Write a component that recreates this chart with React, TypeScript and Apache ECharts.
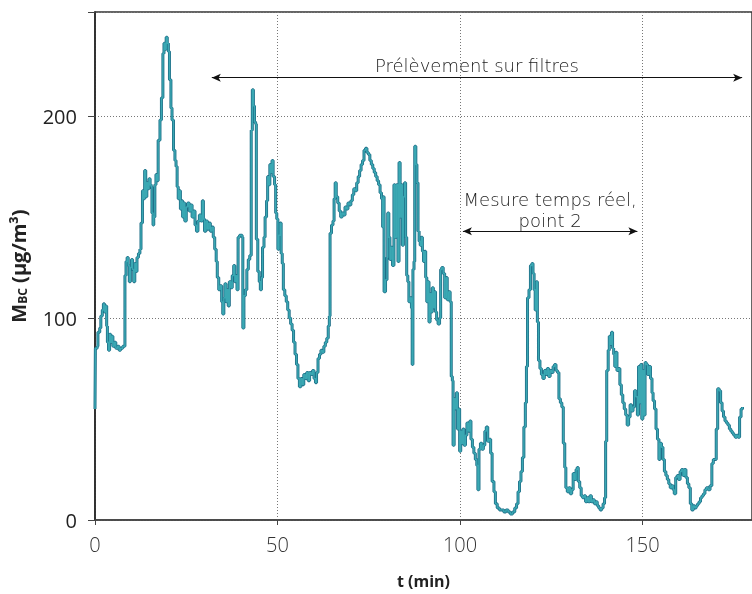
import React, { useEffect, useRef } from "react";
import * as echarts from "echarts";

// time (min)
const timeMin: number[] = [
  0, 0.1, 0.6, 0.8, 1.3, 1.6, 2.0, 2.3, 2.6, 2.9, 3.2, 3.4, 3.7, 4.0, 4.3, 4.6, 4.9, 5.3, 5.7, 6.2, 6.6, 7.0, 7.6, 8.0,
  8.2, 8.5, 8.8, 9.1, 9.4, 9.7, 10.0, 10.3, 10.6, 10.9, 11.2, 11.5, 11.9, 12.3, 12.6, 13.0, 13.3, 13.6, 13.9, 14.2,
  14.5, 14.8, 15.1, 15.4, 15.6, 15.9, 16.1, 16.4, 16.7, 17.0, 17.3, 17.8, 18.2, 18.6, 18.9, 19.2, 19.5, 19.8, 20.1,
  20.4, 20.8, 21.1, 21.5, 21.9, 22.2, 22.5, 22.8, 23.1, 23.4, 23.7, 24.0, 24.3, 24.6, 25.0, 25.4, 25.8, 26.2, 26.6,
  27.0, 27.4, 27.8, 28.2, 28.6, 29.0, 29.4, 29.7, 30.0, 30.4, 30.8, 31.2, 31.6, 32.0, 32.4, 32.8, 33.2, 33.5, 33.9,
  34.3, 34.7, 35.0, 35.3, 35.6, 35.9, 36.2, 36.5, 36.8, 37.2, 37.6, 38.0, 38.3, 38.6, 38.9, 39.2, 39.6, 40.0, 40.3,
  40.5, 40.8, 41.2, 41.6, 42.0, 42.4, 42.8, 43.1, 43.4, 43.7, 44.0, 44.2, 44.6, 45.0, 45.3, 45.6, 45.9, 46.3, 46.6,
  47.0, 47.3, 47.6, 47.9, 48.2, 48.5, 48.8, 49.2, 49.5, 49.8, 50.1, 50.4, 50.7, 51.0, 51.3, 51.6, 52.0, 52.4, 52.8,
  53.2, 53.6, 54.0, 54.4, 54.8, 55.2, 55.6, 56.0, 56.4, 56.8, 57.2, 57.6, 58.0, 58.4, 58.8, 59.2, 59.6, 60.0, 60.4,
  60.7, 61.1, 61.5, 61.9, 62.3, 62.7, 63.1, 63.5, 63.9, 64.2, 64.4, 64.8, 65.2, 65.5, 65.8, 66.1, 66.5, 66.9, 67.3,
  67.7, 68.1, 68.5, 68.9, 69.3, 69.7, 70.1, 70.5, 70.9, 71.3, 71.7, 72.1, 72.5, 72.9, 73.3, 73.7, 74.1, 74.5, 74.9,
  75.3, 75.7, 76.1, 76.5, 76.9, 77.3, 77.7, 78.1, 78.5, 78.8, 79.0, 79.2, 79.6, 80.0, 80.2, 80.5, 80.8, 81.1, 81.5,
  81.9, 82.2, 82.6, 83.0, 83.3, 83.6, 83.9, 84.2, 84.5, 84.8, 85.1, 85.4, 85.7, 86.0, 86.4, 86.7, 86.9, 87.1, 87.4,
  87.6, 87.9, 88.2, 88.5, 88.8, 89.1, 89.4, 89.7, 90.0, 90.3, 90.6, 90.9, 91.2, 91.5, 91.8, 92.1, 92.4, 92.7, 93.0,
  93.3, 93.6, 94.0, 94.4, 94.7, 95.0, 95.4, 95.8, 96.2, 96.5, 96.9, 97.3, 97.6, 97.9, 98.1, 98.4, 98.7, 99.0, 99.3,
  99.6, 99.9, 100.2, 100.5, 100.8, 101.1, 101.5, 101.9, 102.3, 102.7, 103.0, 103.4, 103.8, 104.2, 104.6, 104.9,
  105.2, 105.6, 106.0, 106.4, 106.8, 107.2, 107.6, 108.0, 108.4, 108.8, 109.3, 109.7, 110.2, 110.8, 111.4, 112.0,
  112.6, 113.2, 113.8, 114.4, 115.0, 115.5, 115.9, 116.3, 116.7, 117.1, 117.5, 117.9, 118.2, 118.5, 118.9, 119.3,
  119.7, 120.0, 120.3, 120.6, 120.9, 121.2, 121.5, 121.9, 122.3, 122.7, 123.1, 123.5, 123.9, 124.3, 124.7, 125.1,
  125.5, 125.9, 126.3, 126.7, 127.1, 127.5, 127.9, 128.3, 128.7, 129.0, 129.4, 129.8, 130.2, 130.6, 131.0, 131.4,
  131.8, 132.1, 132.4, 132.8, 133.2, 133.6, 134.0, 134.4, 134.8, 135.2, 135.6, 136.0, 136.4, 136.8, 137.2, 137.6,
  138.0, 138.4, 138.8, 139.2, 139.6, 139.9, 140.2, 140.6, 140.9, 141.2, 141.5, 141.8, 142.1, 142.4, 142.7, 143.0,
  143.4, 143.8, 144.2, 144.6, 145.0, 145.4, 145.8, 146.2, 146.6, 147.0, 147.4, 147.8, 148.2, 148.6, 148.9, 149.2,
  149.5, 149.8, 150.1, 150.4, 150.7, 151.0, 151.4, 151.8, 152.2, 152.6, 152.9, 153.3, 153.7, 154.1, 154.5, 154.8,
  155.2, 155.6, 156.0, 156.4, 156.8, 157.2, 157.6, 158.0, 158.4, 158.7, 159.1, 159.5, 159.9, 160.3, 160.7, 161.1,
  161.5, 161.9, 162.3, 162.7, 163.1, 163.5, 163.9, 164.3, 164.7, 165.1, 165.5, 165.9, 166.3, 166.7, 167.1, 167.5,
  168.0, 168.5, 169.0, 169.4, 169.8, 170.2, 170.6, 171.0, 171.4, 171.8, 172.2, 172.6, 173.0, 173.4, 173.8, 174.2,
  174.6, 175.0, 175.4, 175.8, 176.2, 176.6, 177.0, 177.4,
];

// black carbon mass concentration M_BC (µg/m³)
const mbc: number[] = [
  55, 85, 86, 93, 95, 101, 104, 107, 103, 106, 96, 88, 84, 92, 88, 91, 86, 88, 85, 86, 84, 85, 86, 86,
  121, 128, 130, 126, 118, 125, 129, 124, 118, 127, 123, 130, 132, 134, 147, 163, 159, 173, 160, 167,
  164, 169, 166, 165, 152, 146, 150, 166, 171, 168, 188, 198, 209, 231, 236, 233, 239, 236, 232,
  218, 204, 198, 183, 178, 175, 165, 159, 163, 154, 158, 150, 157, 148, 155, 157, 153, 156, 150,
  153, 146, 143, 148, 151, 148, 158, 149, 143, 148, 144, 147, 143, 145, 140, 134, 128, 120, 114,
  116, 108, 102, 110, 117, 108, 114, 106, 118, 115, 121, 126, 118, 121, 114, 140, 141, 141, 140,
  95, 111, 114, 124, 129, 131, 193, 213, 205, 197, 196, 139, 123, 118, 114, 120, 135, 140, 150,
  158, 170, 166, 176, 172, 178, 170, 166, 152, 149, 134, 141, 147, 132, 127, 114, 111, 108, 104,
  100, 97, 94, 88, 82, 77, 70, 66, 70, 67, 72, 70, 73, 69, 73, 72, 74, 70, 68,
  73, 80, 82, 84, 83, 86, 88, 90, 96, 101, 142, 146, 148, 159, 167, 160, 157, 153, 150,
  152, 151, 155, 154, 157, 156, 158, 161, 164, 163, 167, 170, 173, 176, 178, 183, 184, 182, 181,
  178, 176, 174, 172, 170, 168, 166, 162, 159, 145, 160, 113, 119, 130, 152, 140, 129, 135, 126,
  166, 140, 166, 128, 177, 150, 166, 136, 160, 167, 140, 121, 118, 108, 110, 105, 77, 124, 128,
  185, 176, 167, 143, 138, 136, 140, 133, 128, 133, 120, 108, 118, 98, 112, 103, 115, 105, 113,
  103, 99, 97, 100, 124, 125, 122, 110, 120, 109, 113, 108, 71, 69, 37, 60, 55, 63, 45,
  55, 34, 44, 38, 45, 37, 42, 48, 44, 49, 40, 36, 33, 30, 27, 15,
  35, 38, 35, 37, 44, 46, 39, 40, 33, 19, 14, 8, 6, 5, 5, 4,
  5, 4, 3, 4, 6, 8, 14, 19, 24, 31, 46, 58, 76, 110, 114, 126,
  127, 122, 114, 104, 118, 98, 79, 75, 72, 70, 74, 72, 75, 71, 74, 73,
  76, 77, 74, 73, 60, 58, 56, 38, 26, 16, 14, 16, 13, 15, 23, 20,
  25, 26, 19, 16, 12, 11, 12, 9, 11, 9, 12, 9, 10, 8, 9, 7,
  6, 5, 6, 8, 11, 39, 74, 84, 91, 87, 93, 85, 82, 76, 83, 74,
  75, 67, 62, 58, 55, 52, 47, 51, 57, 54, 56, 64, 61, 52, 76, 58,
  77, 50, 74, 52, 78, 77, 72, 76, 70, 63, 59, 55, 45, 40, 30, 38,
  36, 30, 24, 22, 20, 18, 16, 17, 15, 13, 21, 22, 20, 24, 25, 22,
  25, 21, 18, 16, 8, 5, 7, 6, 7, 8, 9, 11, 12, 13, 15, 16,
  15, 17, 28, 30, 30, 45, 65, 64, 58, 54, 51, 49, 48, 47, 45, 44,
  43, 42, 41, 42, 41, 51, 55, 56,
];

const xTicks: number[] = [0, 50, 100, 150];
const yTicks: number[] = [0, 100, 200];

// annotation arrows: [t start, t end, level]
const filterSpan: number[] = [32, 177.3, 219];
const realTimeSpan: number[] = [100.8, 148.6, 143];

const FONT = "'Open Sans', 'Noto Sans', sans-serif";
const NOTE_FONT = "'DejaVu Sans', sans-serif";

const labelStyle = (text: string, fontSize: number, distance: number) => ({
  show: true,
  position: "middle",
  formatter: text,
  color: "#1a1a1a",
  fontFamily: NOTE_FONT,
  fontWeight: 200,
  fontSize,
  distance,
  opacity: 1,
});

export default function App() {
  const ref = useRef<HTMLDivElement>(null);

  useEffect(() => {
    if (!ref.current) return;
    document.body.style.margin = "0";
    document.body.style.overflow = "hidden";
    document.documentElement.style.overflow = "hidden";
    const chart = echarts.init(ref.current, undefined, { renderer: "svg" });
    const pts = timeMin.map((t, i) => [t, mbc[i]]);

    const arrowStyle = { color: "#111", width: 1, type: "solid" };

    chart.setOption({
      animation: false,
      grid: {
        left: 93,
        right: -1,
        top: 12,
        bottom: 64,
        show: true,
        borderColor: "#333",
        borderWidth: 1.5,
      },
      xAxis: {
        type: "value",
        min: 0,
        max: 180,
        interval: 50,
        name: "t (min)",
        nameLocation: "middle",
        nameGap: 53,
        nameTextStyle: { fontFamily: FONT, fontWeight: "bold", fontSize: 16, color: "#222" },
        axisLine: { show: true, lineStyle: { color: "#444", width: 1.5 } },
        axisTick: { show: true, length: 5, lineStyle: { color: "#444" } },
        axisLabel: {
          fontFamily: FONT,
          fontWeight: 300,
          fontSize: 20,
          color: "#333",
          margin: 14,
          customValues: xTicks,
          formatter: (v: number) => String(v),
        },
        splitLine: { show: true, lineStyle: { color: "#777", type: [1, 2], width: 1 } },
      },
      yAxis: {
        type: "value",
        min: 0,
        max: 251.5,
        interval: 100,
        name: "{m|M}{s|BC}{m| (µg/m³)}",
        nameLocation: "middle",
        nameGap: 67,
        nameRotate: 90,
        nameTextStyle: {
          rich: {
            m: { fontFamily: FONT, fontWeight: "bold", fontSize: 20, color: "#222", lineHeight: 26, verticalAlign: "bottom" },
            s: { fontFamily: FONT, fontWeight: "bold", fontSize: 12, color: "#222", lineHeight: 15, verticalAlign: "bottom", padding: [8, 0, 0, 0] },
          },
        },
        axisLine: { show: true, lineStyle: { color: "#222", width: 1.5 } },
        axisTick: { show: true, length: 7, lineStyle: { color: "#444" } },
        axisLabel: {
          fontFamily: FONT,
          fontSize: 20,
          color: "#222",
          margin: 18,
          customValues: yTicks,
        },
        splitLine: { show: true, lineStyle: { color: "#777", type: [1, 2], width: 1 } },
      },
      series: [
        {
          type: "line",
          data: pts,
          step: "end",
          showSymbol: false,
          symbol: "none",
          lineStyle: { color: "#1f6f88", width: 3 },
          z: 2,
          markLine: {
            silent: true,
            symbol: ["arrow", "arrow"],
            symbolSize: [6, 9],
            lineStyle: arrowStyle,
            emphasis: { disabled: true },
            data: [
              [
                { coord: [filterSpan[0], filterSpan[2]], label: labelStyle("Prélèvement sur filtres", 18, 3) },
                { coord: [filterSpan[1], filterSpan[2]] },
              ],
              [
                { coord: [realTimeSpan[0], realTimeSpan[2]], label: labelStyle("point 2", 18, 2) },
                { coord: [realTimeSpan[1], realTimeSpan[2]] },
              ],
            ],
          },
        },
        {
          type: "line",
          data: pts,
          step: "end",
          showSymbol: false,
          symbol: "none",
          lineStyle: { color: "#3aa8b3", width: 1.4 },
          z: 3,
          markLine: {
            silent: true,
            symbol: ["none", "none"],
            lineStyle: { color: "rgba(0,0,0,0)", width: 1, type: "solid" },
            emphasis: { disabled: true },
            data: [
              [
                { coord: [realTimeSpan[0], realTimeSpan[2]], label: labelStyle("Mesure temps réel,", 18, 23) },
                { coord: [realTimeSpan[1], realTimeSpan[2]] },
              ],
            ],
          },
        },
      ],
    });
    return () => chart.dispose();
  }, []);

  return (
    <div
      ref={ref}
      style={{ position: "fixed", left: 0, top: 0, width: 752, height: 594, overflow: "hidden" }}
    />
  );
}
